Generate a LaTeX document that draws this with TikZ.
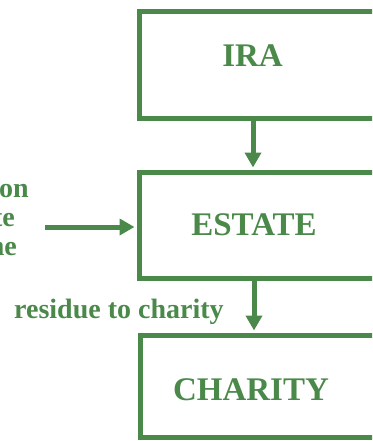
\documentclass[tikz,border=0pt]{standalone}
\usepackage{fontspec}
\setmainfont{Liberation Serif}
\usetikzlibrary{arrows.meta, positioning}
\definecolor{LeafGreen}{RGB}{74,137,74}

\tikzset{
  flowbox/.style={draw=LeafGreen, line width=5pt, inner sep=0pt, minimum width=236pt,
                  text=LeafGreen, font=\fontsize{33}{38}\selectfont\bfseries},
  flowarrow/.style={LeafGreen, line width=5pt, shorten >=2pt,
                    -{Triangle[length=15pt, width=16pt]}},
  sidetext/.style={text=LeafGreen, inner sep=0pt, font=\fontsize{28}{29}\selectfont\bfseries}
}

\begin{document}
\begin{tikzpicture}[x=1pt, y=-1pt]

\useasboundingbox (0,0) rectangle (372,441);
\clip (0,0) rectangle (372,441);

% --- cajas ---
\node[flowbox, minimum height=106pt, text depth=18pt] (ira) at (257,65) {IRA\hspace*{9pt}};
\node[flowbox, minimum height=106pt] (estate) at (257,225) {ESTATE\hspace*{6pt}};
\node[flowbox, minimum height=102pt, text height=29pt] (charity) at (258,386) {CHARITY\hspace*{14pt}};

% --- texto lateral (recortado) ---
\node[sidetext, anchor=base east] (side1) at (29,197) {on};
\node[sidetext, anchor=base east] (side2) at (15,226) {te};
\node[sidetext, anchor=base east] (side3) at (17,255) {ne};
\node[sidetext, anchor=base west] (residue) at (14,318) {residue to charity};

% --- flechas ---
\draw[flowarrow] ([xshift=-4pt]ira.south) -- ([xshift=-4pt]estate.north);
\draw[flowarrow] ([xshift=-3pt]estate.south) -- ([xshift=-4pt]charity.north);
\coordinate (src) at (45,227);
\draw[flowarrow] (src) -- (src -| estate.west);

\end{tikzpicture}
\end{document}
